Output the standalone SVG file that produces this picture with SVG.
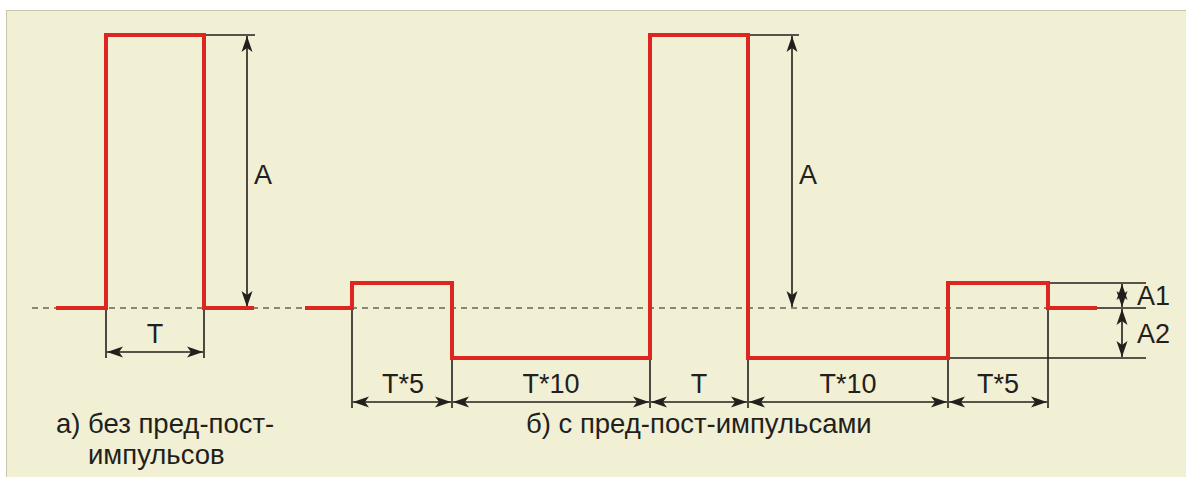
<svg xmlns="http://www.w3.org/2000/svg" width="1186" height="477" viewBox="0 0 1186 477">
<style>
.sig{fill:none;stroke:#de2620;stroke-width:4;stroke-linejoin:miter}
.dim{fill:none;stroke:#231f1c;stroke-width:1.6}
.arr{fill:none;stroke:#231f1c;stroke-width:1.6;marker-start:url(#ah);marker-end:url(#ah)}
.dash{fill:none;stroke:#231f1c;stroke-width:1;stroke-dasharray:6 5}
text{font-family:"Liberation Sans",Arial,sans-serif;font-size:27.5px;fill:#231f1c}
.lbl{font-size:27px}
</style>
<defs>
<marker id="ah" viewBox="-17 -6 18 12" refX="0" refY="0" markerWidth="18" markerHeight="12" markerUnits="userSpaceOnUse" orient="auto-start-reverse">
<path d="M0,0 L-16,-5.5 L-12,0 L-16,5.5 Z" fill="#231f1c"/>
</marker>
</defs>
<rect x="0" y="0" width="1186" height="477" fill="#ffffff"/>
<rect x="6.5" y="10.5" width="1190" height="480" fill="#f1efd4" stroke="#c9c6ad" stroke-width="1"/>
<g id="baseline">
<line class="dash" x1="32" y1="308" x2="1097" y2="308"/>
</g>
<g id="connectors">
<line class="dim" x1="204" y1="35" x2="255" y2="35"/>
<line class="arr" x1="247" y1="36" x2="247" y2="307"/>
<line class="dim" x1="106" y1="308" x2="106" y2="358"/>
<line class="dim" x1="204" y1="308" x2="204" y2="358"/>
<line class="arr" x1="107" y1="352" x2="203" y2="352"/>
<line class="dim" x1="748" y1="35" x2="799" y2="35"/>
<line class="arr" x1="792" y1="36" x2="792" y2="307"/>
<line class="dim" x1="1048" y1="283" x2="1146" y2="283"/>
<line class="dim" x1="1097" y1="308" x2="1146" y2="308"/>
<line class="dim" x1="748" y1="358" x2="1146" y2="358"/>
<line class="arr" x1="1122" y1="284" x2="1122" y2="307"/>
<line class="arr" x1="1122" y1="309" x2="1122" y2="357"/>
<line class="dim" x1="352" y1="308" x2="352" y2="408"/>
<line class="dim" x1="452" y1="358" x2="452" y2="408"/>
<line class="dim" x1="650" y1="358" x2="650" y2="408"/>
<line class="dim" x1="748" y1="358" x2="748" y2="408"/>
<line class="dim" x1="948" y1="358" x2="948" y2="408"/>
<line class="dim" x1="1048" y1="308" x2="1048" y2="408"/>
<line class="arr" x1="353" y1="402" x2="451" y2="402"/>
<line class="arr" x1="453" y1="402" x2="649" y2="402"/>
<line class="arr" x1="651" y1="402" x2="747" y2="402"/>
<line class="arr" x1="749" y1="402" x2="947" y2="402"/>
<line class="arr" x1="949" y1="402" x2="1047" y2="402"/>
</g>
<g id="signal-a">
<path class="sig" d="M56,308 H106 V35 H204 V308 H254"/>
</g>
<g id="signal-b">
<path class="sig" d="M305,308 H352 V283 H452 V358 H650 V35 H748 V358 H948 V283 H1048 V308 H1097"/>
</g>
<g id="labels">
<text class="lbl" x="254" y="184">A</text>
<text class="lbl" x="799" y="184">A</text>
<text class="lbl" x="155" y="343" text-anchor="middle">T</text>
<text class="lbl" x="1137" y="305">A1</text>
<text class="lbl" x="1137" y="343">A2</text>
<text class="lbl" x="403" y="393" text-anchor="middle">T*5</text>
<text class="lbl" x="551" y="393" text-anchor="middle">T*10</text>
<text class="lbl" x="699" y="393" text-anchor="middle">T</text>
<text class="lbl" x="848" y="393" text-anchor="middle">T*10</text>
<text class="lbl" x="998" y="393" text-anchor="middle">T*5</text>
<text x="56" y="433">а) без пред-пост-</text>
<text x="88" y="464">импульсов</text>
<text x="526" y="433">б) с пред-пост-импульсами</text>
</g>
</svg>
